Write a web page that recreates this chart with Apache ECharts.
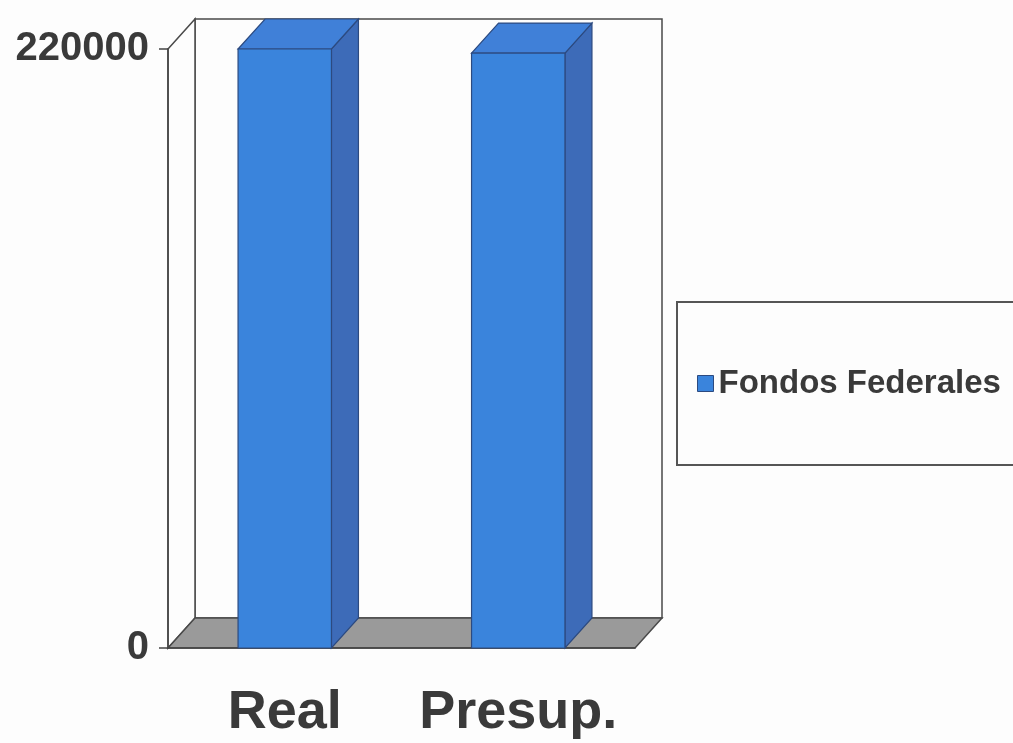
<!DOCTYPE html>
<html><head><meta charset="utf-8">
<script src="https://cdn.jsdelivr.net/npm/echarts@6/dist/echarts.min.js"></script>
<style>html,body{margin:0;padding:0;background:#fdfdfd}#c{width:1013px;height:743px}</style>
</head><body><div id="c"></div>
<script>
const categories = ['Real', 'Presup.'];
const fondosFederales = [220000, 218500];
const seriesName = 'Fondos Federales';
const yMin = 0, yMax = 220000, yInterval = 220000;

const DX = 27, DY = -30;
const chart = echarts.init(document.getElementById('c'));

function renderFrame(params, api) {
  const cs = params.coordSys;
  const x0 = cs.x, x1 = cs.x + cs.width, y0 = cs.y, y1 = cs.y + cs.height;
  const line = {stroke: '#4a4a4a', lineWidth: 1.5};
  return {type: 'group', children: [
    {type: 'polygon', shape: {points: [[x0 + DX, y0 + DY], [x1 + DX, y0 + DY], [x1 + DX, y1 + DY], [x0 + DX, y1 + DY]]}, style: Object.assign({fill: '#fdfdfd'}, line)},
    {type: 'polygon', shape: {points: [[x0, y0], [x0 + DX, y0 + DY], [x0 + DX, y1 + DY], [x0, y1]]}, style: Object.assign({fill: '#fdfdfd'}, line)},
    {type: 'polygon', shape: {points: [[x0, y1], [x0 + DX, y1 + DY], [x1 + DX, y1 + DY], [x1, y1]]}, style: Object.assign({fill: '#9a9a9a'}, line)}
  ]};
}

function renderBar(params, api) {
  const idx = api.value(0), v = api.value(1);
  const top = api.coord([idx, v]), base = api.coord([idx, 0]);
  const band = api.size([1, 0])[0];
  const w = band * 0.4;
  const xl = top[0] - w / 2, xr = top[0] + w / 2, yt = top[1], yb = base[1];
  const edge = {stroke: '#2c4a80', lineWidth: 1.2};
  return {type: 'group', children: [
    {type: 'polygon', shape: {points: [[xr, yt], [xr + DX, yt + DY], [xr + DX, yb + DY], [xr, yb]]}, style: Object.assign({fill: '#3d6bb8'}, edge)},
    {type: 'polygon', shape: {points: [[xl, yt], [xl + DX, yt + DY], [xr + DX, yt + DY], [xr, yt]]}, style: Object.assign({fill: '#4080d8'}, edge)},
    {type: 'rect', shape: {x: xl, y: yt, width: w, height: yb - yt}, style: Object.assign({fill: '#3a84dc'}, edge)}
  ]};
}

const textColor = '#3a3a3a';
chart.setOption({
  backgroundColor: '#fdfdfd',
  animation: false,
  grid: {left: 168, top: 49, width: 467, height: 599},
  legend: {
    data: [seriesName], left: 677, top: 302, orient: 'vertical',
    padding: [65, 30, 65, 20], borderColor: '#555', borderWidth: 2, backgroundColor: '#fdfdfd',
    itemWidth: 16, itemHeight: 16, icon: 'rect',
    itemStyle: {borderColor: '#2c4a80', borderWidth: 1},
    textStyle: {fontFamily: '"Liberation Sans", Arial, sans-serif', fontWeight: 'bold', fontSize: 33, color: textColor}
  },
  xAxis: {
    type: 'category', data: categories, boundaryGap: true, z: 3,
    axisLine: {lineStyle: {color: '#444', width: 1.5}},
    axisTick: {length: 12, lineStyle: {color: '#555', width: 1.5}},
    axisLabel: {
      interval: 0, hideOverlap: false, margin: 38,
      fontFamily: '"Liberation Sans", Arial', fontWeight: 'bold', fontSize: 54, color: textColor
    }
  },
  yAxis: {
    type: 'value', min: yMin, max: yMax, interval: yInterval, z: 3,
    axisLine: {show: true, lineStyle: {color: '#444', width: 1.5}},
    axisTick: {show: true, length: 9, lineStyle: {color: '#444', width: 1.5}},
    splitLine: {show: false},
    axisLabel: {margin: 19, formatter: function (v) { return String(v); },
      fontFamily: '"Liberation Sans", Arial', fontWeight: 'bold', fontSize: 40, color: textColor}
  },
  series: [
    {type: 'custom', z: 1, silent: true, renderItem: renderFrame, data: [[0, 0]], clip: false},
    {type: 'custom', name: seriesName, z: 4, renderItem: renderBar, clip: false,
     itemStyle: {color: '#3a84dc'},
     encode: {x: 0, y: 1},
     data: categories.map(function (c, i) { return [i, fondosFederales[i]]; })}
  ]
});
</script>
</body></html>
